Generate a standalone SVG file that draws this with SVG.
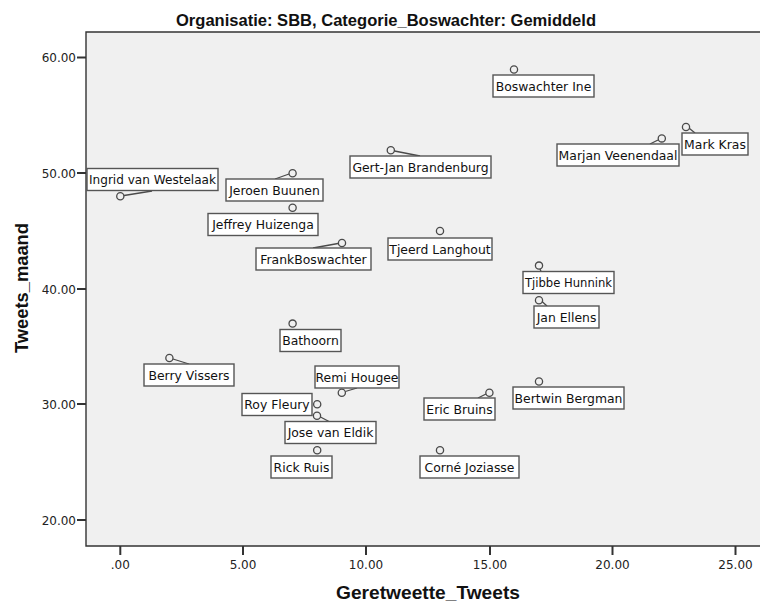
<svg xmlns="http://www.w3.org/2000/svg" width="760" height="602" viewBox="0 0 760 602">
  <style>
    .bg { fill: #f0f0f0; }
    .axis { stroke: #333; stroke-width: 1.4; fill: none; }
    .tick { stroke: #333; stroke-width: 2; }
    .ticklbl { font-family: "DejaVu Sans", "Liberation Sans", sans-serif; font-size: 12px; fill: #222; }
    .title { font-family: "Liberation Sans", Arial, sans-serif; font-weight: bold; fill: #111; }
    .pt { fill: none; stroke: #4a4a4a; stroke-width: 1.3; }
    .box { fill: #ffffff; stroke: #555; stroke-width: 1.4; }
    .lbl { font-family: "DejaVu Sans", "Liberation Sans", sans-serif; font-size: 12.4px; fill: #111; text-anchor: middle; }
    .lead { stroke: #4a4a4a; stroke-width: 1.3; }
  </style>

  <rect width="760" height="602" fill="#ffffff"/>

  <!-- plot area -->
  <rect class="bg" x="86" y="32" width="674" height="514"/>
  <path class="axis" d="M760 32 H86 V546 H760"/>

  <!-- title -->
  <text class="title" x="386" y="25.5" font-size="16" text-anchor="middle" textLength="420" lengthAdjust="spacingAndGlyphs">Organisatie: SBB, Categorie_Boswachter: Gemiddeld</text>

  <!-- y axis ticks -->
  <g id="y-axis">
    <line class="tick" x1="77" y1="57.5" x2="86" y2="57.5"/>
    <line class="tick" x1="77" y1="173" x2="86" y2="173"/>
    <line class="tick" x1="77" y1="289" x2="86" y2="289"/>
    <line class="tick" x1="77" y1="404" x2="86" y2="404"/>
    <line class="tick" x1="77" y1="520" x2="86" y2="520"/>
    <text class="ticklbl" x="76" y="62" text-anchor="end">60.00</text>
    <text class="ticklbl" x="76" y="177.5" text-anchor="end">50.00</text>
    <text class="ticklbl" x="76" y="293.5" text-anchor="end">40.00</text>
    <text class="ticklbl" x="76" y="408.5" text-anchor="end">30.00</text>
    <text class="ticklbl" x="76" y="524.5" text-anchor="end">20.00</text>
    <text class="title" font-size="18" text-anchor="middle" transform="translate(28 288) rotate(-90)" textLength="130" lengthAdjust="spacingAndGlyphs">Tweets_maand</text>
  </g>

  <!-- x axis ticks -->
  <g id="x-axis">
    <line class="tick" x1="120.3" y1="546" x2="120.3" y2="555"/>
    <line class="tick" x1="243" y1="546" x2="243" y2="555"/>
    <line class="tick" x1="366" y1="546" x2="366" y2="555"/>
    <line class="tick" x1="490" y1="546" x2="490" y2="555"/>
    <line class="tick" x1="612.5" y1="546" x2="612.5" y2="555"/>
    <line class="tick" x1="735.5" y1="546" x2="735.5" y2="555"/>
    <text class="ticklbl" x="120.3" y="569" text-anchor="middle">.00</text>
    <text class="ticklbl" x="243" y="569" text-anchor="middle">5.00</text>
    <text class="ticklbl" x="366" y="569" text-anchor="middle">10.00</text>
    <text class="ticklbl" x="490" y="569" text-anchor="middle">15.00</text>
    <text class="ticklbl" x="612.5" y="569" text-anchor="middle">20.00</text>
    <text class="ticklbl" x="735.5" y="569" text-anchor="middle">25.00</text>
    <text class="title" x="428" y="599" font-size="18" text-anchor="middle" textLength="184" lengthAdjust="spacingAndGlyphs">Geretweette_Tweets</text>
  </g>

  <!-- leader lines from points to their labels -->
  <g id="connectors">
    <line class="lead" x1="124" y1="195.5" x2="152" y2="191"/>
    <line class="lead" x1="289" y1="174" x2="275" y2="179"/>
    <line class="lead" x1="394.5" y1="151" x2="420" y2="156"/>
    <line class="lead" x1="338" y1="243.5" x2="313" y2="248"/>
    <line class="lead" x1="173" y1="359" x2="189" y2="364"/>
    <line class="lead" x1="345.3" y1="391.5" x2="357" y2="388"/>
    <line class="lead" x1="320.5" y1="417" x2="329" y2="421.5"/>
    <line class="lead" x1="486" y1="394" x2="478" y2="398"/>
    <line class="lead" x1="658" y1="140" x2="650" y2="144"/>
    <line class="lead" x1="689.5" y1="128.5" x2="695" y2="133"/>
    <line class="lead" x1="542" y1="301.5" x2="547" y2="306"/>
    <line class="lead" x1="540" y1="269" x2="541" y2="271.5"/>
  </g>

  <g id="boswachter-ine">
    <circle class="pt" cx="514" cy="69.5" r="3.6"/>
    <rect class="box" x="493" y="75" width="101" height="22"/>
    <text class="lbl" x="543.5" y="90.5">Boswachter Ine</text>
  </g>
  <g id="mark-kras">
    <circle class="pt" cx="686" cy="127" r="3.6"/>
    <rect class="box" x="682" y="133" width="66" height="22"/>
    <text class="lbl" x="715" y="148.5">Mark Kras</text>
  </g>
  <g id="marjan-veenendaal">
    <circle class="pt" cx="661.8" cy="138.4" r="3.6"/>
    <rect class="box" x="557" y="144" width="122" height="22"/>
    <text class="lbl" x="618" y="159.5">Marjan Veenendaal</text>
  </g>
  <g id="gert-jan-brandenburg">
    <circle class="pt" cx="390.8" cy="150.3" r="3.6"/>
    <rect class="box" x="350" y="156" width="141" height="22"/>
    <text class="lbl" x="420.5" y="171.5">Gert-Jan Brandenburg</text>
  </g>
  <g id="jeroen-buunen">
    <circle class="pt" cx="292.6" cy="173.2" r="3.6"/>
    <rect class="box" x="226" y="179" width="97" height="22"/>
    <text class="lbl" x="274.5" y="194.5">Jeroen Buunen</text>
  </g>
  <g id="ingrid-van-westelaak">
    <circle class="pt" cx="120.3" cy="196.2" r="3.6"/>
    <rect class="box" x="87" y="168.5" width="131" height="22"/>
    <text class="lbl" x="152.5" y="184" textLength="127" lengthAdjust="spacingAndGlyphs">Ingrid van Westelaak</text>
  </g>
  <g id="jeffrey-huizenga">
    <circle class="pt" cx="292.6" cy="207.8" r="3.6"/>
    <rect class="box" x="208" y="213.5" width="110" height="22"/>
    <text class="lbl" x="263" y="229">Jeffrey Huizenga</text>
  </g>
  <g id="frankboswachter">
    <circle class="pt" cx="342" cy="243" r="3.6"/>
    <rect class="box" x="256" y="248" width="115" height="22"/>
    <text class="lbl" x="313.5" y="263.5">FrankBoswachter</text>
  </g>
  <g id="tjeerd-langhout">
    <circle class="pt" cx="440" cy="231" r="3.6"/>
    <rect class="box" x="388" y="238" width="104" height="22"/>
    <text class="lbl" x="440" y="253.5">Tjeerd Langhout</text>
  </g>
  <g id="tjibbe-hunnink">
    <circle class="pt" cx="539" cy="265.6" r="3.6"/>
    <rect class="box" x="523" y="271.5" width="91" height="22"/>
    <text class="lbl" x="568.5" y="287" textLength="87" lengthAdjust="spacingAndGlyphs">Tjibbe Hunnink</text>
  </g>
  <g id="jan-ellens">
    <circle class="pt" cx="539" cy="300.2" r="3.6"/>
    <rect class="box" x="534" y="306" width="65" height="22"/>
    <text class="lbl" x="566.5" y="321.5">Jan Ellens</text>
  </g>
  <g id="bathoorn">
    <circle class="pt" cx="292.6" cy="323.6" r="3.6"/>
    <rect class="box" x="280" y="329.5" width="61" height="22"/>
    <text class="lbl" x="310.5" y="345">Bathoorn</text>
  </g>
  <g id="berry-vissers">
    <circle class="pt" cx="169.4" cy="358" r="3.6"/>
    <rect class="box" x="144" y="364" width="90" height="22"/>
    <text class="lbl" x="189" y="379.5">Berry Vissers</text>
  </g>
  <g id="remi-hougee">
    <circle class="pt" cx="341.8" cy="392.7" r="3.6"/>
    <rect class="box" x="315" y="366" width="84" height="22"/>
    <text class="lbl" x="357" y="381.5">Remi Hougee</text>
  </g>
  <g id="roy-fleury">
    <circle class="pt" cx="317.2" cy="404.2" r="3.6"/>
    <rect class="box" x="242" y="393.5" width="70" height="22"/>
    <text class="lbl" x="277" y="409">Roy Fleury</text>
  </g>
  <g id="jose-van-eldik">
    <circle class="pt" cx="317" cy="415.8" r="3.6"/>
    <rect class="box" x="285" y="421.5" width="91" height="22"/>
    <text class="lbl" x="330.5" y="437">Jose van Eldik</text>
  </g>
  <g id="rick-ruis">
    <circle class="pt" cx="317.2" cy="450.3" r="3.6"/>
    <rect class="box" x="271" y="456" width="61" height="22"/>
    <text class="lbl" x="301.5" y="471.5">Rick Ruis</text>
  </g>
  <g id="eric-bruins">
    <circle class="pt" cx="489.4" cy="392.7" r="3.6"/>
    <rect class="box" x="424" y="398" width="71" height="22"/>
    <text class="lbl" x="459.5" y="413.5">Eric Bruins</text>
  </g>
  <g id="corne-joziasse">
    <circle class="pt" cx="440" cy="450.3" r="3.6"/>
    <rect class="box" x="420" y="456" width="99" height="22"/>
    <text class="lbl" x="469.5" y="471.5">Corné Joziasse</text>
  </g>
  <g id="bertwin-bergman">
    <circle class="pt" cx="539" cy="381.5" r="3.6"/>
    <rect class="box" x="513" y="387" width="111" height="22"/>
    <text class="lbl" x="568.5" y="402.5">Bertwin Bergman</text>
  </g>
</svg>
